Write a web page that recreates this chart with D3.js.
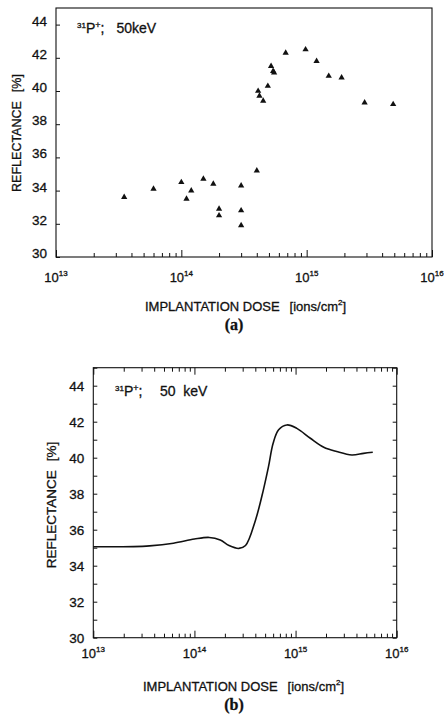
<!DOCTYPE html>
<html>
<head>
<meta charset="utf-8">
<script src="https://cdn.jsdelivr.net/npm/d3@7"></script>
<style>
body{margin:0;background:#fff;}
svg{display:block;font-family:"Liberation Sans",Arial,sans-serif;fill:#111;}
svg text{stroke:#111;stroke-width:0.3px;}
</style>
</head>
<body>
<svg id="fig" width="444" height="722"></svg>
<script>
// (a) measured reflectance, 31P+ 50 keV
var doseA = [3.5e13, 6e13, 1e14, 1.1e14, 1.2e14, 1.5e14, 1.8e14, 2e14, 2e14, 3e14, 3e14, 3e14,
    4e14, 4.1e14, 4.2e14, 4.5e14, 4.9e14, 5.2e14, 5.4e14, 5.5e14, 6.8e14, 9.8e14,
    1.2e15, 1.5e15, 1.9e15, 2.9e15, 4.9e15];
var reflA = [33.6, 34.1, 34.5, 33.5, 34.0, 34.7, 34.4, 32.9, 32.5, 34.3, 32.8, 31.9,
    35.2, 40.0, 39.7, 39.4, 40.3, 41.5, 41.2, 41.1, 42.3, 42.5,
    41.8, 40.9, 40.8, 39.3, 39.2];

// (b) smoothed curve
var doseB = [1e13, 2.5e13, 3.6e13, 6.2e13, 1e14, 1.4e14, 1.8e14, 2.2e14, 2.75e14, 3.2e14,
    4e14, 4.8e14, 5.4e14, 6e14, 6.8e14, 8.2e14, 1.03e15, 1.4e15, 1.9e15, 2.55e15,
    3.6e15, 4.7e15, 5.8e15];
var reflB = [35.05, 35.06, 35.1, 35.25, 35.48, 35.57, 35.43, 35.12, 34.96, 35.12,
    36.5, 38.2, 39.5, 40.8, 41.55, 41.82, 41.63, 41.08, 40.58, 40.34,
    40.15, 40.24, 40.3];

var decades = [1e13, 1e14, 1e15, 1e16];
var decadeExp = ["13", "14", "15", "16"];
var yTicks = [30, 32, 34, 36, 38, 40, 42, 44];
var yMinor = d3.range(30, 46, 1);

var svg = d3.select("#fig");
svg.append("rect").attr("width", 444).attr("height", 722).attr("fill", "#fff").attr("stroke", "none");

// minor log ticks 2..9 x 10^k
var logMinor = [];
decades.slice(0, 3).forEach(function(d){
    for(var k = 2; k < 10; k++) logMinor.push(d * k);
});

function panel(p){
    var x = d3.scaleLog().domain([1e13, 1e16]).range([p.left, p.right]);
    var y = d3.scaleLinear().domain([30, 45]).range([p.bottom, p.top]);
    var g = svg.append("g");

    g.append("rect")
        .attr("x", p.left).attr("y", p.top)
        .attr("width", p.right - p.left).attr("height", p.bottom - p.top)
        .attr("fill", "none").attr("stroke", "#111").attr("stroke-width", 1.1);

    // inward ticks
    g.append("g").attr("transform", "translate(0," + p.bottom + ")")
        .call(d3.axisBottom(x).tickValues(logMinor).tickSize(-4).tickFormat(""));
    g.append("g").attr("transform", "translate(0," + p.bottom + ")")
        .call(d3.axisBottom(x).tickValues(decades).tickSize(-7).tickFormat(""));
    g.append("g").attr("transform", "translate(" + p.left + ",0)")
        .call(d3.axisLeft(y).tickValues(p.allY ? yMinor : yTicks).tickSize(-4).tickFormat(""));
    if(p.allSides){
        g.append("g").attr("transform", "translate(0," + p.top + ")")
            .call(d3.axisTop(x).tickValues(logMinor).tickSize(-4).tickFormat(""));
        g.append("g").attr("transform", "translate(0," + p.top + ")")
            .call(d3.axisTop(x).tickValues(decades).tickSize(-7).tickFormat(""));
        g.append("g").attr("transform", "translate(" + p.right + ",0)")
            .call(d3.axisRight(y).tickValues(yMinor).tickSize(-4).tickFormat(""));
    }
    g.selectAll(".domain").remove();
    g.selectAll(".tick line").attr("stroke", "#111");

    // y tick labels
    g.selectAll("text.yl").data(yTicks).enter().append("text")
        .attr("class", "yl")
        .attr("x", p.left - 9)
        .attr("y", function(d){ return y(d) + p.yShift; })
        .attr("text-anchor", "end")
        .attr("font-size", 13.5)
        .text(function(d){ return d; });

    // x tick labels 10^n
    var xl = g.selectAll("text.xl").data(decades).enter().append("text")
        .attr("class", "xl")
        .attr("x", function(d){ return x(d); })
        .attr("y", p.xLabelY)
        .attr("text-anchor", "middle")
        .attr("font-size", 13);
    xl.append("tspan").text("10");
    xl.append("tspan").attr("font-size", 8).attr("dy", -6)
        .text(function(d, i){ return decadeExp[i]; });

    // axis titles
    var yt = g.append("text")
        .attr("transform", "translate(" + p.yTitleX + "," + p.yTitleY + ") rotate(-90)")
        .attr("text-anchor", "middle")
        .attr("font-size", p.yTitleSize);
    yt.append("tspan").text("REFLECTANCE");
    yt.append("tspan").attr("dx", 9).text("[%]");

    var xt = g.append("text")
        .attr("x", p.xTitleX).attr("y", p.xTitleY)
        .attr("font-size", 13);
    xt.append("tspan").text("IMPLANTATION DOSE");
    xt.append("tspan").attr("dx", 10).text("[ions/cm");
    xt.append("tspan").attr("font-size", 8).attr("dy", -6).text("2");
    xt.append("tspan").attr("dy", 6).text("]");

    // ion / energy note
    var note = g.append("text").attr("x", p.noteX).attr("y", p.noteY).attr("font-size", 14);
    note.append("tspan").attr("font-size", 8).attr("dy", -5).text("31");
    note.append("tspan").attr("dy", 5).text("P");
    note.append("tspan").attr("font-size", 9).attr("dy", -5).text("+");
    note.append("tspan").attr("dy", 5).text(";");
    p.noteParts.forEach(function(t){
        note.append("tspan").attr("x", t[0]).text(t[1]);
    });

    // panel letter
    svg.append("text")
        .attr("x", p.letterX).attr("y", p.letterY)
        .attr("text-anchor", "middle")
        .attr("font-family", "'Liberation Serif','Times New Roman',serif")
        .attr("font-weight", "bold")
        .attr("font-size", 16)
        .text(p.letter);

    return {g: g, x: x, y: y};
}

// (a)
var a = panel({
    left: 56, right: 432, top: 8, bottom: 257, allSides: false, allY: false, yShift: 1,
    xLabelY: 282, yTitleX: 21, yTitleY: 133, yTitleSize: 12.5,
    xTitleX: 145, xTitleY: 311,
    noteX: 77, noteY: 33, noteParts: [[116.5, "50keV"]],
    letter: "(a)", letterX: 234, letterY: 330
});

a.g.selectAll("path.pt").data(doseA).enter().append("path")
    .attr("class", "pt")
    .attr("transform", function(d, i){ return "translate(" + a.x(d) + "," + a.y(reflA[i]) + ")"; })
    .attr("d", d3.symbol(d3.symbolTriangle).size(17))
    .attr("fill", "#111");

// (b)
var b = panel({
    left: 93.3, right: 396.7, top: 367.7, bottom: 637.7, allSides: true, allY: true, yShift: 5,
    xLabelY: 658, yTitleX: 56, yTitleY: 505, yTitleSize: 13.5,
    xTitleX: 143, xTitleY: 691,
    noteX: 115, noteY: 396, noteParts: [[160, "50"], [183.3, "keV"]],
    letter: "(b)", letterX: 234, letterY: 710
});

var line = d3.line()
    .x(function(d){ return b.x(d); })
    .y(function(d, i){ return b.y(reflB[i]); })
    .curve(d3.curveCatmullRom.alpha(0.5));

b.g.append("path")
    .datum(doseB)
    .attr("d", line)
    .attr("fill", "none")
    .attr("stroke", "#111")
    .attr("stroke-width", 1.6);
</script>
</body>
</html>
